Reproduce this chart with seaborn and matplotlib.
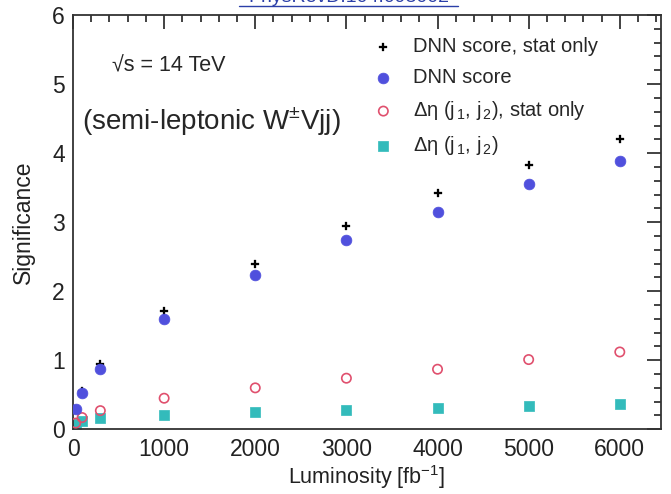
import matplotlib
matplotlib.use('Agg')
import matplotlib.pyplot as plt
import seaborn as sns
import pandas as pd
from matplotlib.lines import Line2D
from matplotlib.ticker import MultipleLocator

# 数据
lumi = [30, 100, 300, 1000, 2000, 3000, 4000, 5000, 6000]
dnn_stat = [0.30, 0.56, 0.94, 1.71, 2.40, 2.95, 3.42, 3.83, 4.20]
dnn_syst = [0.29, 0.53, 0.88, 1.60, 2.23, 2.74, 3.15, 3.55, 3.89]
deta_stat = [0.09, 0.17, 0.27, 0.45, 0.60, 0.74, 0.87, 1.01, 1.12]
deta_syst = [0.07, 0.12, 0.17, 0.21, 0.25, 0.28, 0.31, 0.34, 0.37]

labels = ['DNN score, stat only', 'DNN score',
          r'$\Delta\eta$ (j$_{\,1}$, j$_{\,2}$), stat only',
          r'$\Delta\eta$ (j$_{\,1}$, j$_{\,2}$)']

sns.set_style('white')
plt.rcParams['font.family'] = ['Liberation Sans', 'DejaVu Sans']
plt.rcParams['mathtext.fontset'] = 'custom'
plt.rcParams['mathtext.rm'] = 'Liberation Sans'
plt.rcParams['mathtext.it'] = 'Liberation Sans'

fig = plt.figure(figsize=(6.71, 4.94), dpi=100)
ax = fig.add_axes([0.1088, 0.131, 0.876, 0.8385])

df = pd.DataFrame({'lumi': lumi, 'dnn_stat': dnn_stat, 'dnn_syst': dnn_syst,
                   'deta_stat': deta_stat, 'deta_syst': deta_syst})

sns.scatterplot(data=df, x='lumi', y='deta_syst', ax=ax, marker='s', s=55,
                color='#33bbbb', edgecolor='#33bbbb', linewidth=0.5, label=labels[3], zorder=2)
sns.scatterplot(data=df, x='lumi', y='deta_stat', ax=ax, marker='o', s=45,
                facecolor='none', edgecolor='#e0506e', linewidth=1.2, label=labels[2], zorder=3)
sns.scatterplot(data=df, x='lumi', y='dnn_stat', ax=ax, marker='P', s=38,
                color='black', edgecolor='black', linewidth=0.2, label=labels[0], zorder=3)
sns.scatterplot(data=df, x='lumi', y='dnn_syst', ax=ax, marker='o', s=60,
                color='#5050dd', edgecolor='#5050dd', linewidth=0.5, label=labels[1], zorder=4)

ax.set_xlim(0, 6450)
ax.set_ylim(0, 6)
ax.xaxis.set_major_locator(MultipleLocator(1000))
ax.xaxis.set_minor_locator(MultipleLocator(200))
ax.yaxis.set_major_locator(MultipleLocator(1))
ax.yaxis.set_minor_locator(MultipleLocator(0.2))
ax.tick_params(which='both', direction='in', top=True, right=True, width=1.2,
               labelsize=16.5, colors='#222222')
ax.tick_params(which='major', length=10, pad=6)
ax.tick_params(which='minor', length=5)
for sp in ax.spines.values():
    sp.set_linewidth(1.3)
    sp.set_color('#333333')

ax.set_xlabel(r'Luminosity [fb$^{-1}$]', fontsize=15.5, color='#222222', labelpad=2)
ax.set_ylabel('Significance', fontsize=16.5, color='#222222', labelpad=12)

# 图例顺序
h, l = ax.get_legend_handles_labels()
order = [l.index(x) for x in labels]
ax.legend([h[i] for i in order], [l[i] for i in order], loc='upper left',
          bbox_to_anchor=(0.48, 0.966), frameon=False, fontsize=14.5,
          handletextpad=0.45, labelspacing=0.6, borderaxespad=0)

ax.text(0.066, 0.877, '\u221as = 14 TeV', transform=ax.transAxes,
        fontsize=15.5, va='center', ha='left')
ax.text(0.015, 0.742, r'(semi-leptonic W$^{\pm}$Vjj)', transform=ax.transAxes,
        fontsize=20, va='center', ha='left')

# 顶部链接标题（被裁剪）
fig.text(0.52, 1.006, 'PhysRevD.104.093002', color='#2b3fa8', fontsize=14,
         ha='center', va='center')
fig.add_artist(Line2D([0.356, 0.682], [0.988, 0.988], color='#2b3fa8', lw=1,
                      transform=fig.transFigure))

fig.savefig('out.png', dpi=100)
